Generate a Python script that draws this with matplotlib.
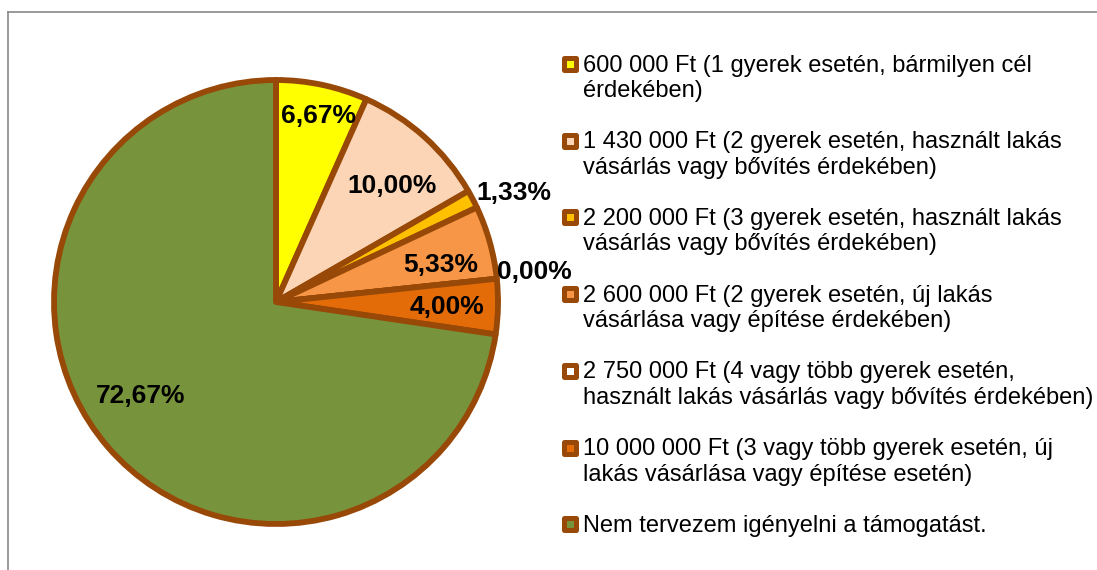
import numpy as np
import matplotlib
matplotlib.use("Agg")
import matplotlib.pyplot as plt
from matplotlib.lines import Line2D
from matplotlib.markers import MarkerStyle

plt.rcParams['font.family'] = ['Liberation Sans', 'DejaVu Sans']

categories = [
    "600 000 Ft (1 gyerek esetén, bármilyen cél\nérdekében)",
    "1 430 000 Ft (2 gyerek esetén, használt lakás\nvásárlás vagy bővítés érdekében)",
    "2 200 000 Ft (3 gyerek esetén, használt lakás\nvásárlás vagy bővítés érdekében)",
    "2 600 000 Ft (2 gyerek esetén, új lakás\nvásárlása vagy építése érdekében)",
    "2 750 000 Ft (4 vagy több gyerek esetén,\nhasznált lakás vásárlás vagy bővítés érdekében)",
    "10 000 000 Ft (3 vagy több gyerek esetén, új\nlakás vásárlása vagy építése esetén)",
    "Nem tervezem igényelni a támogatást.",
]
values = [6.67, 10.00, 1.33, 5.33, 0.00, 4.00, 72.67]
value_labels = ["6,67%", "10,00%", "1,33%", "5,33%", "0,00%", "4,00%", "72,67%"]
colors = ["#FFFF00", "#FBD5B5", "#FFC000", "#F79646", "#FFFFFF", "#E36C09", "#77933C"]
edge = "#984807"

W, H = 1097, 570
fig = plt.figure(figsize=(W / 100, H / 100), dpi=100)

cx, cy, R = 276, 302, 222
ax = fig.add_axes([(cx - R) / W, (H - cy - R) / H, 2 * R / W, 2 * R / H])
wedges, _ = ax.pie(values, colors=colors, startangle=90, counterclock=False,
                   radius=1.0, wedgeprops=dict(edgecolor=edge, linewidth=4.2,
                                               joinstyle='round'))
ax.set_xlim(-1, 1)
ax.set_ylim(-1, 1)
ax.set_aspect('equal')
ax.axis('off')

# data labels
rfac = [0.86, 0.74, 1.18, 0.76, 1.17, 0.77, 0.745]
dang = [-1, -3, -3, -3, 0.7, -0.5, -6]
for w, lab, rf, da in zip(wedges, value_labels, rfac, dang):
    ang = np.deg2rad((w.theta1 + w.theta2) / 2 + da)
    ax.text(rf * np.cos(ang), rf * np.sin(ang), lab, ha='center', va='center',
            fontsize=19, fontweight='bold', color='black', clip_on=False)

# legend (manual, aligned to first line of each entry)
base0, step, line_px = 72, 76.7, 25
tx, mx = 583, 570
for i, (lab, col) in enumerate(zip(categories, colors)):
    yb = base0 + i * step
    nl = lab.count("\n")
    fig.text(tx / W, 1 - (yb + nl * line_px) / H, lab, ha='left', va='baseline',
             fontsize=17, linespacing=1.2, color='#000000')
    fig.add_artist(Line2D([mx / W], [1 - (yb - 8) / H],
                          marker=MarkerStyle('s', joinstyle='round'), markersize=8,
                          markerfacecolor=col, markeredgecolor=edge, markeredgewidth=3.6,
                          transform=fig.transFigure, linestyle='none'))

# outer frame (partially visible)
fig.add_artist(Line2D([8 / W, 1], [1 - 12 / H, 1 - 12 / H], color='#898989', lw=1.2,
                      transform=fig.transFigure))
fig.add_artist(Line2D([8 / W, 8 / W], [0, 1 - 12 / H], color='#898989', lw=1.2,
                      transform=fig.transFigure))

fig.savefig("out.png", dpi=100)
